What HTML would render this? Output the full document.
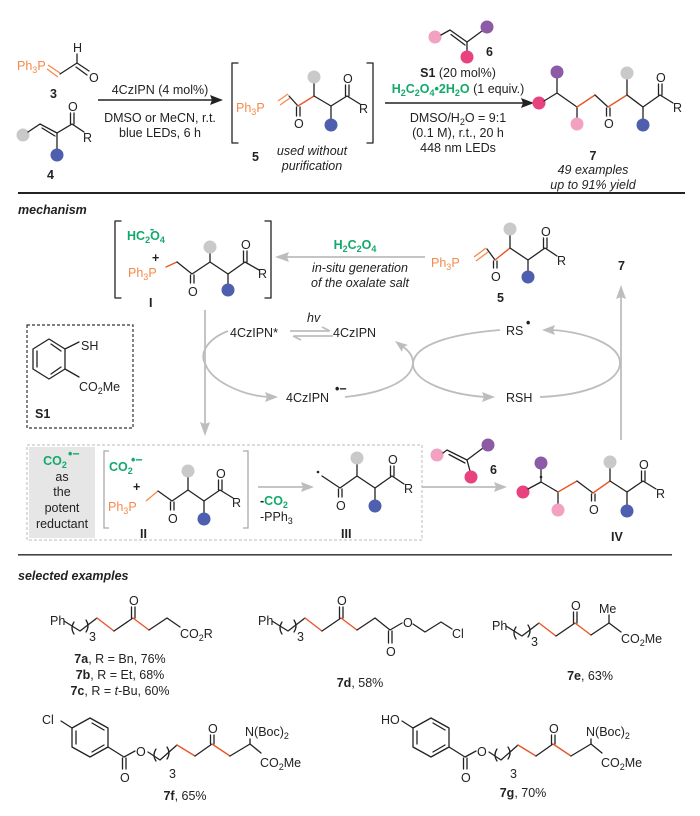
<!DOCTYPE html>
<html><head><meta charset="utf-8">
<style>
html,body{margin:0;padding:0;background:#fff;}
svg{display:block;font-family:"Liberation Sans",Arial,sans-serif;}
.b{stroke:#222;stroke-width:1.3;fill:none;stroke-linecap:round;stroke-linejoin:round}
.o{stroke:#e8562a;stroke-width:1.4;fill:none;stroke-linecap:round}
.og{stroke:#f58a4b;stroke-width:1.3;fill:none}
.ga{stroke:#bdbdbd;stroke-width:1.8;fill:none}
.gh{fill:#bdbdbd}
.t{font-size:12.5px;fill:#222}
.tp{font-size:12.5px;fill:#f58a4b}
.tg{font-size:12.5px;fill:#13a96b;font-weight:bold}
.bd{font-weight:bold}
.it{font-style:italic}
.s{font-size:9px}
.cg{fill:#c9c9c9}.cb{fill:#4f5fb0}.cp{fill:#8d5ba6}.cl{fill:#f3a1c1}.cm{fill:#e8437e}
</style></head>
<body>
<svg width="700" height="816" viewBox="0 0 700 816">
<!-- ===== TOP ===== -->
<!-- compound 3 -->
<text x="17" y="70" class="tp">Ph<tspan class="s" dy="3">3</tspan><tspan dy="-3">P</tspan></text>
<line x1="48" y1="65" x2="60" y2="73" class="og"/><line x1="47" y1="69" x2="58" y2="77" class="og"/>
<polyline points="60,74 77,63 89,71" class="b"/>
<line x1="76" y1="67" x2="87" y2="75" class="b"/>
<line x1="77" y1="63" x2="77" y2="54" class="b"/>
<text x="73" y="52" class="t">H</text>
<text x="89" y="82" class="t">O</text>
<text x="50" y="98" class="t bd">3</text>
<!-- compound 4 -->
<circle cx="23" cy="135" r="6.5" class="cg"/>
<polyline points="28,132 40,124 57,133 72,124 84,132" class="b"/>
<line x1="42" y1="128" x2="55" y2="136" class="b"/>
<line x1="57" y1="133" x2="57" y2="150" class="b"/>
<circle cx="57" cy="155" r="6.5" class="cb"/>
<line x1="70.5" y1="124" x2="70.5" y2="113" class="b"/><line x1="74" y1="124" x2="74" y2="113" class="b"/>
<text x="68" y="111" class="t">O</text>
<text x="83" y="142" class="t">R</text>
<text x="47" y="179" class="t bd">4</text>
<!-- arrow 1 -->
<line x1="98" y1="100" x2="214" y2="100" stroke="#222" stroke-width="1.4"/>
<polygon points="223,100 210,95 212,100 210,105" fill="#222"/>
<text x="160" y="94" class="t" text-anchor="middle">4CzIPN (4 mol%)</text>
<text x="160" y="122" class="t" text-anchor="middle">DMSO or MeCN, r.t.</text>
<text x="160" y="137" class="t" text-anchor="middle">blue LEDs,  6 h</text>
<!-- 5 top -->
<path d="M238,63 H232 V143 H238" class="b"/>
<text x="236" y="112" class="tp">Ph<tspan class="s" dy="3">3</tspan><tspan dy="-3">P</tspan></text>
<line x1="278" y1="101" x2="288" y2="94" class="og"/><line x1="280" y1="105" x2="290" y2="98" class="og"/>
<line x1="289" y1="96" x2="298" y2="106" class="b"/>
<line x1="296.5" y1="107" x2="296.5" y2="116" class="b"/><line x1="300" y1="107" x2="300" y2="116" class="b"/>
<text x="294" y="128" class="t">O</text>
<line x1="298" y1="106" x2="314" y2="96" class="o"/>
<polyline points="314,96 331,106 347,96 360,104" class="b"/>
<line x1="314" y1="96" x2="314" y2="82" class="b"/><circle cx="314" cy="77" r="6.5" class="cg"/>
<line x1="331" y1="106" x2="331" y2="119" class="b"/><circle cx="331" cy="125" r="6.5" class="cb"/>
<line x1="345.5" y1="96" x2="345.5" y2="85" class="b"/><line x1="349" y1="96" x2="349" y2="85" class="b"/>
<text x="343" y="83" class="t">O</text>
<text x="359" y="113" class="t">R</text>
<path d="M367,63 H373 V143 H367" class="b"/>
<text x="252" y="161" class="t bd">5</text>
<text x="312" y="155" class="t it" text-anchor="middle">used without</text>
<text x="312" y="170" class="t it" text-anchor="middle">purification</text>
<!-- arrow 2 -->
<line x1="385" y1="103" x2="525" y2="103" stroke="#222" stroke-width="1.4"/>
<polygon points="534,103 521,98 523,103 521,108" fill="#222"/>
<circle cx="435" cy="37" r="6.5" class="cl"/>
<polyline points="441,35 450,30 467,42 482,31" class="b"/>
<line x1="451" y1="34.5" x2="465" y2="45" class="b"/>
<circle cx="487" cy="27" r="6.5" class="cp"/>
<line x1="467" y1="42" x2="467" y2="52" class="b"/><circle cx="467" cy="57" r="6.5" class="cm"/>
<text x="486" y="56" class="t bd">6</text>
<text x="458" y="77" class="t" text-anchor="middle"><tspan class="bd">S1</tspan> (20 mol%)</text>
<text x="458" y="93" class="t" text-anchor="middle"><tspan fill="#13a96b" font-weight="bold">H<tspan class="s" dy="3">2</tspan><tspan dy="-3">C</tspan><tspan class="s" dy="3">2</tspan><tspan dy="-3">O</tspan><tspan class="s" dy="3">4</tspan><tspan dy="-3">•2H</tspan><tspan class="s" dy="3">2</tspan><tspan dy="-3">O</tspan></tspan> (1 equiv.)</text>
<text x="458" y="122" class="t" text-anchor="middle">DMSO/H<tspan class="s" dy="3">2</tspan><tspan dy="-3">O = 9:1</tspan></text>
<text x="458" y="137" class="t" text-anchor="middle">(0.1 M), r.t., 20 h</text>
<text x="458" y="152" class="t" text-anchor="middle">448 nm LEDs</text>
<!-- 7 -->
<circle cx="539" cy="103" r="6.5" class="cm"/>
<polyline points="544,101 557,93 577,107" class="b"/>
<line x1="557" y1="93" x2="557" y2="78" class="b"/><circle cx="557" cy="72" r="6.5" class="cp"/>
<line x1="577" y1="107" x2="577" y2="118" class="b"/><circle cx="577" cy="124" r="6.5" class="cl"/>
<line x1="577" y1="107" x2="595" y2="95" class="o"/>
<line x1="595" y1="95" x2="608" y2="107" class="b"/>
<line x1="606.5" y1="108" x2="606.5" y2="116" class="b"/><line x1="610" y1="108" x2="610" y2="116" class="b"/>
<text x="604" y="128" class="t">O</text>
<line x1="608" y1="107" x2="627" y2="95" class="o"/>
<polyline points="627,95 643,107 660,95 673,103" class="b"/>
<line x1="627" y1="95" x2="627" y2="79" class="b"/><circle cx="627" cy="73" r="6.5" class="cg"/>
<line x1="643" y1="107" x2="643" y2="119" class="b"/><circle cx="643" cy="125" r="6.5" class="cb"/>
<line x1="658.5" y1="95" x2="658.5" y2="84" class="b"/><line x1="662" y1="95" x2="662" y2="84" class="b"/>
<text x="656" y="82" class="t">O</text>
<text x="673" y="112" class="t">R</text>
<text x="593" y="160" class="t bd" text-anchor="middle">7</text>
<text x="593" y="174" class="t it" text-anchor="middle">49 examples</text>
<text x="593" y="189" class="t it" text-anchor="middle">up to 91% yield</text>
<rect x="18" y="192" width="667" height="2" fill="#222"/>

<!-- ===== MECHANISM ===== -->
<text x="18" y="214" class="t bd it">mechanism</text>
<!-- I -->
<path d="M121,221 H115 V298 H121" class="b"/>
<text x="127" y="240" class="tg">HC<tspan class="s" dy="3">2</tspan><tspan dy="-3">O</tspan><tspan class="s" dy="3">4</tspan></text>
<text x="150" y="233" class="tg" font-size="11">-</text>
<text x="152" y="262" class="t bd">+</text>
<text x="128" y="277" class="tp">Ph<tspan class="s" dy="3">3</tspan><tspan dy="-3">P</tspan></text>
<line x1="166" y1="267" x2="177" y2="262" class="o"/>
<polyline points="177,262 192,274 210,262 228,274 245,262 259,270" class="b"/>
<line x1="190.5" y1="275" x2="190.5" y2="283" class="b"/><line x1="194" y1="275" x2="194" y2="283" class="b"/>
<text x="188" y="296" class="t">O</text>
<line x1="210" y1="262" x2="210" y2="253" class="b"/><circle cx="210" cy="247" r="6.5" class="cg"/>
<line x1="228" y1="274" x2="228" y2="284" class="b"/><circle cx="228" cy="290" r="6.5" class="cb"/>
<line x1="243.5" y1="262" x2="243.5" y2="251" class="b"/><line x1="247" y1="262" x2="247" y2="251" class="b"/>
<text x="241" y="249" class="t">O</text>
<text x="258" y="278" class="t">R</text>
<path d="M265,221 H271 V298 H265" class="b"/>
<text x="149" y="307" class="t bd">I</text>
<!-- arrow 5 -> I -->
<line x1="425" y1="257" x2="285" y2="257" class="ga"/>
<polygon points="275,257 289,252 287,257 289,262" class="gh"/>
<text x="355" y="249" class="tg" text-anchor="middle">H<tspan class="s" dy="3">2</tspan><tspan dy="-3">C</tspan><tspan class="s" dy="3">2</tspan><tspan dy="-3">O</tspan><tspan class="s" dy="3">4</tspan></text>
<text x="360" y="272" class="t it" text-anchor="middle" fill="#333">in-situ generation</text>
<text x="360" y="287" class="t it" text-anchor="middle" fill="#333">of the oxalate salt</text>
<!-- 5 mech -->
<text x="431" y="267" class="tp">Ph<tspan class="s" dy="3">3</tspan><tspan dy="-3">P</tspan></text>
<line x1="474" y1="257" x2="486" y2="248" class="og"/><line x1="476" y1="261" x2="488" y2="252" class="og"/>
<line x1="487" y1="249" x2="495" y2="260" class="b"/>
<line x1="493.5" y1="261" x2="493.5" y2="268" class="b"/><line x1="497" y1="261" x2="497" y2="268" class="b"/>
<text x="491" y="281" class="t">O</text>
<line x1="495" y1="260" x2="510" y2="248" class="o"/>
<polyline points="510,248 528,260 545,248 557,256" class="b"/>
<line x1="510" y1="248" x2="510" y2="235" class="b"/><circle cx="510" cy="229" r="6.5" class="cg"/>
<line x1="528" y1="260" x2="528" y2="271" class="b"/><circle cx="528" cy="277" r="6.5" class="cb"/>
<line x1="543.5" y1="248" x2="543.5" y2="238" class="b"/><line x1="547" y1="248" x2="547" y2="238" class="b"/>
<text x="541" y="236" class="t">O</text>
<text x="557" y="265" class="t">R</text>
<text x="497" y="302" class="t bd">5</text>
<text x="618" y="270" class="t bd">7</text>
<line x1="621" y1="440" x2="621" y2="296" class="ga"/>
<polygon points="621,285 616,299 621,297 626,299" class="gh"/>
<!-- cycles -->
<text x="230" y="337" class="t" fill="#333">4CzIPN*</text>
<text x="307" y="322" class="t it" fill="#333">hv</text>
<line x1="290" y1="331" x2="329" y2="331" class="ga" stroke-width="1.4"/>
<polyline points="322,327 330,331" class="ga" stroke-width="1.4"/>
<line x1="294" y1="336" x2="333" y2="336" class="ga" stroke-width="1.4"/>
<polyline points="301,340 293,336" class="ga" stroke-width="1.4"/>
<text x="333" y="337" class="t" fill="#333">4CzIPN</text>
<text x="286" y="402" class="t" fill="#333">4CzIPN</text>
<text x="335" y="393" class="t bd" font-size="11">•−</text>
<text x="506" y="335" class="t" fill="#333">RS</text>
<text x="526" y="327" class="t bd" font-size="10">•</text>
<text x="506" y="402" class="t" fill="#333">RSH</text>
<!-- left ellipse left arc -->
<path d="M228,331 C205,340 200,355 205,363 C210,380 240,395 268,397" class="ga"/>
<polygon points="278,397 265,392 267,397 265,402" class="gh"/>
<!-- left ellipse right side: from 4CzIPN•- to 4CzIPN -->
<path d="M345,397 C385,393 412,380 413,363 C413,355 408,350 402,346" class="ga"/>
<polygon points="395,341 402,352 403,347 408,345" class="gh"/>
<!-- right ellipse left side: RS• to RSH -->
<path d="M500,330 C450,334 415,345 413,363 C412,380 445,394 485,397" class="ga"/>
<polygon points="495,397 482,392 484,397 482,402" class="gh"/>
<!-- right ellipse right side: RSH to RS• -->
<path d="M540,397 C590,395 620,380 620,363 C620,346 590,333 553,330" class="ga"/>
<polygon points="542,330 555,325 553,330 555,335" class="gh"/>
<!-- vertical arrow I -> II -->
<line x1="205" y1="310" x2="205" y2="425" class="ga"/>
<polygon points="205,436 200,422 205,424 210,422" class="gh"/>
<!-- S1 box -->
<rect x="27" y="325" width="106" height="103" fill="none" stroke="#333" stroke-width="1.2" stroke-dasharray="3,2"/>
<polygon points="49,339 65,349 65,369 49,379 33,369 33,349" class="b"/>
<line x1="37" y1="351" x2="37" y2="367" class="b"/>
<line x1="51" y1="344" x2="61" y2="351" class="b"/>
<line x1="51" y1="374" x2="61" y2="367" class="b"/>
<line x1="65" y1="349" x2="79" y2="342" class="b"/>
<text x="81" y="350" class="t">SH</text>
<line x1="65" y1="369" x2="79" y2="377" class="b"/>
<text x="79" y="391" class="t">CO<tspan class="s" dy="3">2</tspan><tspan dy="-3">Me</tspan></text>
<text x="35" y="418" class="t bd">S1</text>
<!-- big dashed box -->
<rect x="27" y="445" width="395" height="95" fill="none" stroke="#bbb" stroke-width="1" stroke-dasharray="3,2"/>
<rect x="29" y="447" width="66" height="91" fill="#e6e6e6"/>
<text x="55" y="465" class="tg" text-anchor="middle">CO<tspan class="s" dy="3">2</tspan></text>
<text x="68" y="458" class="tg" font-size="10">•−</text>
<text x="62" y="481" class="t" text-anchor="middle">as</text>
<text x="62" y="496" class="t" text-anchor="middle">the</text>
<text x="62" y="512" class="t" text-anchor="middle">potent</text>
<text x="62" y="528" class="t" text-anchor="middle">reductant</text>
<!-- II -->
<path d="M109,451 H104 V528 H109" stroke="#aaa" stroke-width="1.3" fill="none"/>
<text x="109" y="471" class="tg">CO<tspan class="s" dy="3">2</tspan></text>
<text x="131" y="464" class="tg" font-size="10">•−</text>
<text x="133" y="491" class="t bd">+</text>
<text x="108" y="511" class="tp">Ph<tspan class="s" dy="3">3</tspan><tspan dy="-3">P</tspan></text>
<line x1="146" y1="501" x2="158" y2="491" class="og"/>
<polyline points="158,491 172,501 188,490 204,501 220,490 233,498" class="b"/>
<line x1="170.5" y1="502" x2="170.5" y2="510" class="b"/><line x1="174" y1="502" x2="174" y2="510" class="b"/>
<text x="168" y="523" class="t">O</text>
<line x1="188" y1="490" x2="188" y2="477" class="b"/><circle cx="188" cy="471" r="6.5" class="cg"/>
<line x1="204" y1="501" x2="204" y2="513" class="b"/><circle cx="204" cy="519" r="6.5" class="cb"/>
<line x1="218.5" y1="490" x2="218.5" y2="480" class="b"/><line x1="222" y1="490" x2="222" y2="480" class="b"/>
<text x="216" y="478" class="t">O</text>
<text x="232" y="507" class="t">R</text>
<path d="M243,451 H248 V528 H243" stroke="#aaa" stroke-width="1.3" fill="none"/>
<text x="140" y="538" class="t bd">II</text>
<!-- arrow II->III -->
<line x1="258" y1="487" x2="304" y2="487" class="ga"/>
<polygon points="314,487 301,482 303,487 301,492" class="gh"/>
<text x="260" y="505" class="t bd">-<tspan fill="#13a96b">CO<tspan class="s" dy="3">2</tspan></tspan></text>
<text x="260" y="521" class="t">-PPh<tspan class="s" dy="3">3</tspan></text>
<!-- III -->
<circle cx="318" cy="472" r="1.3" fill="#222"/>
<polyline points="322,476 340,488 357,476 375,488 392,476 404,484" class="b"/>
<line x1="338.5" y1="489" x2="338.5" y2="497" class="b"/><line x1="342" y1="489" x2="342" y2="497" class="b"/>
<text x="336" y="510" class="t">O</text>
<line x1="357" y1="476" x2="357" y2="464" class="b"/><circle cx="357" cy="458" r="6.5" class="cg"/>
<line x1="375" y1="488" x2="375" y2="500" class="b"/><circle cx="375" cy="506" r="6.5" class="cb"/>
<line x1="390.5" y1="476" x2="390.5" y2="466" class="b"/><line x1="394" y1="476" x2="394" y2="466" class="b"/>
<text x="388" y="464" class="t">O</text>
<text x="404" y="493" class="t">R</text>
<text x="341" y="538" class="t bd">III</text>
<!-- arrow III->IV -->
<line x1="422" y1="487" x2="497" y2="487" class="ga"/>
<polygon points="507,487 494,482 496,487 494,492" class="gh"/>
<circle cx="437" cy="455" r="6.5" class="cl"/>
<polyline points="443,453 447,450 467,460 483,448" class="b"/>
<line x1="449" y1="454.5" x2="465" y2="463" class="b"/>
<circle cx="488" cy="445" r="6.5" class="cp"/>
<line x1="467" y1="460" x2="470" y2="471" class="b"/><circle cx="471" cy="477" r="6.5" class="cm"/>
<text x="490" y="474" class="t bd">6</text>
<!-- IV -->
<circle cx="523" cy="492" r="6.5" class="cm"/>
<polyline points="528,489 541,482 558,492" class="b"/>
<circle cx="541" cy="477" r="1.3" fill="#222"/>
<line x1="541" y1="482" x2="541" y2="469" class="b"/><circle cx="541" cy="463" r="6.5" class="cp"/>
<line x1="558" y1="492" x2="558" y2="504" class="b"/><circle cx="558" cy="510" r="6.5" class="cl"/>
<line x1="558" y1="492" x2="577" y2="481" class="o"/>
<line x1="577" y1="481" x2="593" y2="493" class="b"/>
<line x1="591.5" y1="494" x2="591.5" y2="501" class="b"/><line x1="595" y1="494" x2="595" y2="501" class="b"/>
<text x="589" y="514" class="t">O</text>
<line x1="593" y1="493" x2="610" y2="481" class="o"/>
<polyline points="610,481 627,492 643,481 656,489" class="b"/>
<line x1="610" y1="481" x2="610" y2="468" class="b"/><circle cx="610" cy="462" r="6.5" class="cg"/>
<line x1="627" y1="492" x2="627" y2="505" class="b"/><circle cx="627" cy="511" r="6.5" class="cb"/>
<line x1="641.5" y1="481" x2="641.5" y2="471" class="b"/><line x1="645" y1="481" x2="645" y2="471" class="b"/>
<text x="639" y="469" class="t">O</text>
<text x="656" y="498" class="t">R</text>
<text x="611" y="541" class="t bd">IV</text>
<rect x="18" y="554" width="654" height="1.6" fill="#444"/>

<!-- ===== EXAMPLES ===== -->
<text x="18" y="580" class="t bd it">selected examples</text>
<!-- 7a chain template -->
<g id="ch7a">
<text x="50" y="625" class="t">Ph</text>
<polyline points="64,621 80,631 97,618" class="b"/>
<path d="M74,622 q-4,6 0,12" class="b" stroke-width="1"/>
<path d="M86,620 q4,6 0,12" class="b" stroke-width="1"/>
<text x="89" y="641" class="t" font-size="11">3</text>
<line x1="97" y1="618" x2="114" y2="631" class="o"/>
<line x1="114" y1="631" x2="133" y2="618" class="b"/>
<line x1="131.5" y1="618" x2="131.5" y2="607" class="b"/><line x1="135" y1="618" x2="135" y2="607" class="b"/>
<text x="129" y="605" class="t">O</text>
<line x1="133" y1="618" x2="149" y2="630" class="o"/>
<line x1="149" y1="630" x2="167" y2="618" class="b"/>
</g>
<line x1="167" y1="618" x2="180" y2="627" class="b"/>
<text x="180" y="638" class="t">CO<tspan class="s" dy="3">2</tspan><tspan dy="-3">R</tspan></text>
<text x="120" y="663" class="t" text-anchor="middle"><tspan class="bd">7a</tspan>, R = Bn, 76%</text>
<text x="120" y="679" class="t" text-anchor="middle"><tspan class="bd">7b</tspan>, R = Et, 68%</text>
<text x="120" y="695" class="t" text-anchor="middle"><tspan class="bd">7c</tspan>, R = <tspan class="it">t</tspan>-Bu, 60%</text>
<!-- 7d -->
<use href="#ch7a" transform="translate(208,0)"/>
<polyline points="375,618 390,630 402,623" class="b"/>
<line x1="388.5" y1="631" x2="388.5" y2="643" class="b"/><line x1="392" y1="631" x2="392" y2="643" class="b"/>
<text x="386" y="656" class="t">O</text>
<text x="403" y="627" class="t">O</text>
<polyline points="413,624 425,632 441,622 452,629" class="b"/>
<text x="452" y="638" class="t">Cl</text>
<text x="360" y="687" class="t" text-anchor="middle"><tspan class="bd">7d</tspan>, 58%</text>
<!-- 7e -->
<use href="#ch7a" transform="translate(442,5)"/>
<line x1="609" y1="623" x2="609" y2="615" class="b"/>
<text x="599" y="613" class="t">Me</text>
<line x1="609" y1="623" x2="621" y2="632" class="b"/>
<text x="621" y="643" class="t">CO<tspan class="s" dy="3">2</tspan><tspan dy="-3">Me</tspan></text>
<text x="590" y="680" class="t" text-anchor="middle"><tspan class="bd">7e</tspan>, 63%</text>
<!-- 7f -->
<g id="ch7f">
<polygon points="90,718 108,728 108,747 90,757 72,747 72,728" class="b"/>
<line x1="76" y1="731" x2="76" y2="744" class="b"/>
<line x1="92" y1="752" x2="104" y2="745" class="b"/>
<line x1="92" y1="723" x2="104" y2="730" class="b"/>
<polyline points="108,747 124,757 135,751" class="b"/>
<line x1="122.5" y1="758" x2="122.5" y2="769" class="b"/><line x1="126" y1="758" x2="126" y2="769" class="b"/>
<text x="120" y="782" class="t">O</text>
<text x="136" y="756" class="t">O</text>
<polyline points="148,752 160,760 177,745" class="b"/>
<path d="M156,749 q-4,6 0,12" class="b" stroke-width="1"/>
<path d="M167,747 q4,6 0,12" class="b" stroke-width="1"/>
<text x="169" y="778" class="t" font-size="11">3</text>
<line x1="177" y1="745" x2="195" y2="756" class="o"/>
<line x1="195" y1="756" x2="212" y2="744" class="b"/>
<line x1="210.5" y1="744" x2="210.5" y2="735" class="b"/><line x1="214" y1="744" x2="214" y2="735" class="b"/>
<text x="208" y="733" class="t">O</text>
<line x1="212" y1="744" x2="230" y2="756" class="o"/>
<line x1="230" y1="756" x2="250" y2="744" class="b"/>
<line x1="250" y1="744" x2="250" y2="739" class="b"/>
<text x="245" y="736" class="t">N(Boc)<tspan class="s" dy="3">2</tspan></text>
<line x1="250" y1="744" x2="261" y2="753" class="b"/>
<text x="260" y="767" class="t">CO<tspan class="s" dy="3">2</tspan><tspan dy="-3">Me</tspan></text>
</g>
<line x1="72" y1="728" x2="61" y2="721" class="b"/>
<text x="42" y="724" class="t">Cl</text>
<text x="185" y="800" class="t" text-anchor="middle"><tspan class="bd">7f</tspan>, 65%</text>
<!-- 7g -->
<use href="#ch7f" transform="translate(341,0)"/>
<line x1="413" y1="728" x2="402" y2="721" class="b"/>
<text x="381" y="724" class="t">HO</text>
<text x="523" y="797" class="t" text-anchor="middle"><tspan class="bd">7g</tspan>, 70%</text>
</svg>
</body></html>
